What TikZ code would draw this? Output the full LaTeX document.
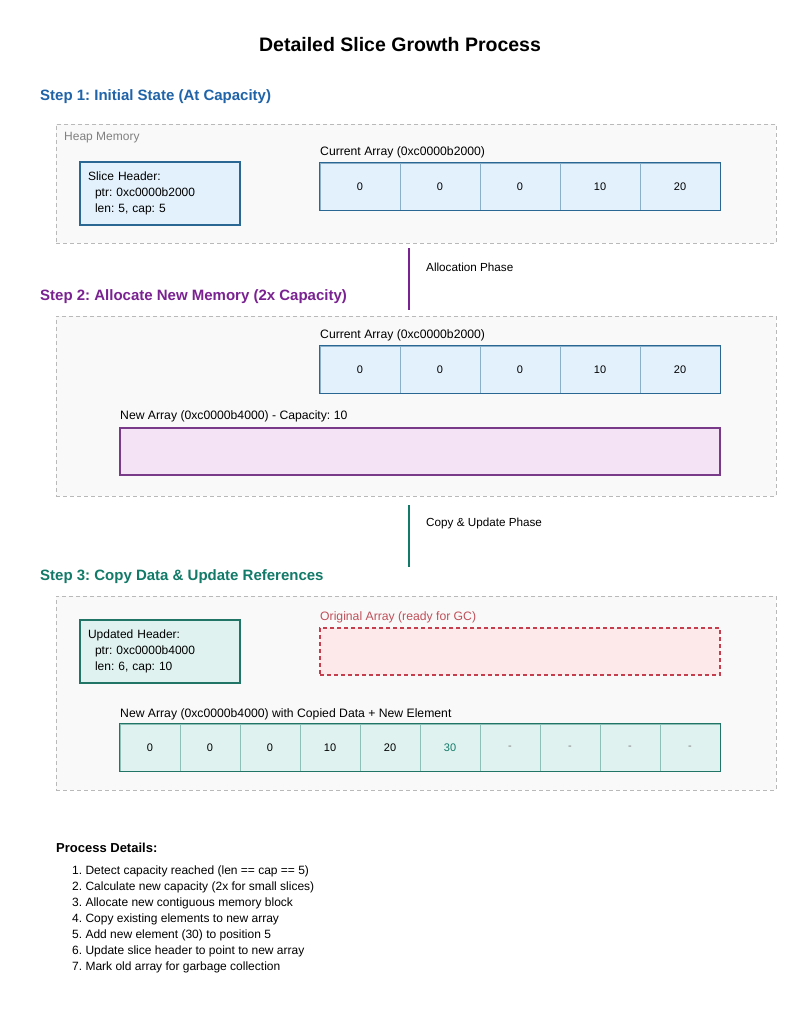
\documentclass[tikz,border=0pt]{standalone}
\usepackage{fontspec}
\setmainfont{Liberation Sans}
\usetikzlibrary{positioning}
\definecolor{stepblue}{HTML}{1F63A8}
\definecolor{steppurple}{HTML}{7A2291}
\definecolor{stepteal}{HTML}{127A68}
\definecolor{bluefill}{HTML}{E3F1FC}
\definecolor{blueline}{HTML}{2B6793}
\definecolor{bluediv}{HTML}{8BAFC8}
\definecolor{purplefill}{HTML}{F3E3F5}
\definecolor{purpleline}{HTML}{7A3A8A}
\definecolor{tealfill}{HTML}{DFF2EF}
\definecolor{tealline}{HTML}{217566}
\definecolor{tealdiv}{HTML}{8CC0B6}
\definecolor{redfill}{HTML}{FDE8EA}
\definecolor{redline}{HTML}{C43E4E}
\definecolor{redtext}{HTML}{C0505A}
\tikzstyle{panel} = [rectangle, draw=gray!55, dash pattern=on 4pt off 3pt,
    fill=gray!5, line width=0.9pt]
\tikzstyle{header} = [rectangle, draw, line width=1.2pt, text width=144pt,
    inner xsep=8pt, minimum height=63pt, align=left,
    font=\fontsize{12}{16}\selectfont]
\tikzstyle{cell} = [rectangle, draw, line width=0.9pt, minimum width=80pt,
    minimum height=47pt, inner sep=0pt, font=\fontsize{11}{12}\selectfont]
\tikzstyle{txt} = [anchor=west, inner sep=0pt, yshift=-2pt, font=\fontsize{12.2}{14}\selectfont]
\tikzstyle{steptitle} = [anchor=west, inner sep=0pt, yshift=-2pt, font=\bfseries\fontsize{15}{17}\selectfont]
\tikzstyle{phase} = [line width=1.5pt]

\begin{document}
\frenchspacing
\begin{tikzpicture}[x=1pt, y=-1pt]
	\fill[white] (0,0) rectangle (800,1016);
	\useasboundingbox (0,0) rectangle (800,1016);

	\node[font=\bfseries\fontsize{19.5}{22}\selectfont] (title) at (400,45) {Detailed Slice Growth Process};

	% step 1
	\node[steptitle, text=stepblue] (step1) at (40,95) {Step 1: Initial State (At Capacity)};
	\node[panel, minimum width=720pt, minimum height=119pt] (heap1) at (416,183.5) {};
	\node[txt, text=gray, font=\fontsize{12}{14}\selectfont] (heaplbl) at (64,136) {Heap Memory};
	\node[header, draw=blueline, fill=bluefill] (hdr1) at (160,193.5)
		{Slice Header:\\\hspace*{7pt}ptr: 0xc0000b2000\\\hspace*{7pt}len: 5, cap: 5};
	\node[txt] (cur1lbl) at (320,150) {Current Array (0xc0000b2000)};
	\foreach \v [count=\i] in {0,0,0,10,20}
		\node[cell, draw=bluediv, fill=bluefill] (cur1-\i) at (280+80*\i,186.5) {\v};
	\draw[blueline, line width=1.5pt] (cur1-1.north west) rectangle (cur1-5.south east);

	% allocation
	\coordinate (alloctop) at (409,248);
	\coordinate (allocbot) at (409,310);
	\draw[phase, steppurple] (alloctop) -- (allocbot);
	\node[txt, font=\fontsize{11.7}{13}\selectfont] (alloclbl) at (426,265) {Allocation Phase};

	% step 2
	\node[steptitle, text=steppurple] (step2) at (40,295) {Step 2: Allocate New Memory (2x Capacity)};
	\node[panel, minimum width=720pt, minimum height=180pt] (heap2) at (416,406) {};
	\node[txt] (cur2lbl) at (320,333) {Current Array (0xc0000b2000)};
	\foreach \v [count=\i] in {0,0,0,10,20}
		\node[cell, draw=bluediv, fill=bluefill] (cur2-\i) at (280+80*\i,369.5) {\v};
	\draw[blueline, line width=1.5pt] (cur2-1.north west) rectangle (cur2-5.south east);
	\node[txt] (new2lbl) at (120,414) {New Array (0xc0000b4000) - Capacity: 10};
	\node[rectangle, draw=purpleline, fill=purplefill, line width=1.5pt,
		minimum width=600pt, minimum height=47pt] (new2) at (420,451.5) {};

	% copy and update
	\coordinate (copytop) at (409,505);
	\coordinate (copybot) at (409,567);
	\draw[phase, stepteal] (copytop) -- (copybot);
	\node[txt, font=\fontsize{11.7}{13}\selectfont] (copylbl) at (426,521) {Copy \& Update Phase};

	% step 3
	\node[steptitle, text=stepteal] (step3) at (40,575) {Step 3: Copy Data \& Update References};
	\node[panel, minimum width=720pt, minimum height=194pt] (heap3) at (416,693) {};
	\node[header, draw=tealline, fill=tealfill] (hdr3) at (160,651.5)
		{Updated Header:\\\hspace*{7pt}ptr: 0xc0000b4000\\\hspace*{7pt}len: 6, cap: 10};
	\node[txt, text=redtext] (oldlbl) at (320,615) {Original Array (ready for GC)};
	\node[rectangle, draw=redline, fill=redfill, line width=1.2pt, dash pattern=on 4pt off 3pt,
		minimum width=400pt, minimum height=47pt] (old3) at (520,651.5) {};
	\node[txt] (new3lbl) at (120,712) {New Array (0xc0000b4000) with Copied Data + New Element};
	\foreach \v/\c [count=\i] in {0/black,0/black,0/black,10/black,20/black,30/stepteal,-/gray,-/gray,-/gray,-/gray}
		\node[cell, draw=tealdiv, fill=tealfill, minimum width=60pt, text=\c] (new3-\i) at (90+60*\i,747.5) {\v};
	\draw[tealline, line width=1.5pt] (new3-1.north west) rectangle (new3-10.south east);

	% details
	\node[txt, font=\bfseries\fontsize{13}{15}\selectfont] (details) at (56,846) {Process Details:};
	\node[anchor=north west, inner sep=0pt, align=left, font=\fontsize{12}{16}\selectfont] (steps) at (72,866)
		{1. Detect capacity reached (len == cap == 5)\\
		 2. Calculate new capacity (2x for small slices)\\
		 3. Allocate new contiguous memory block\\
		 4. Copy existing elements to new array\\
		 5. Add new element (30) to position 5\\
		 6. Update slice header to point to new array\\
		 7. Mark old array for garbage collection};
\end{tikzpicture}
\end{document}
